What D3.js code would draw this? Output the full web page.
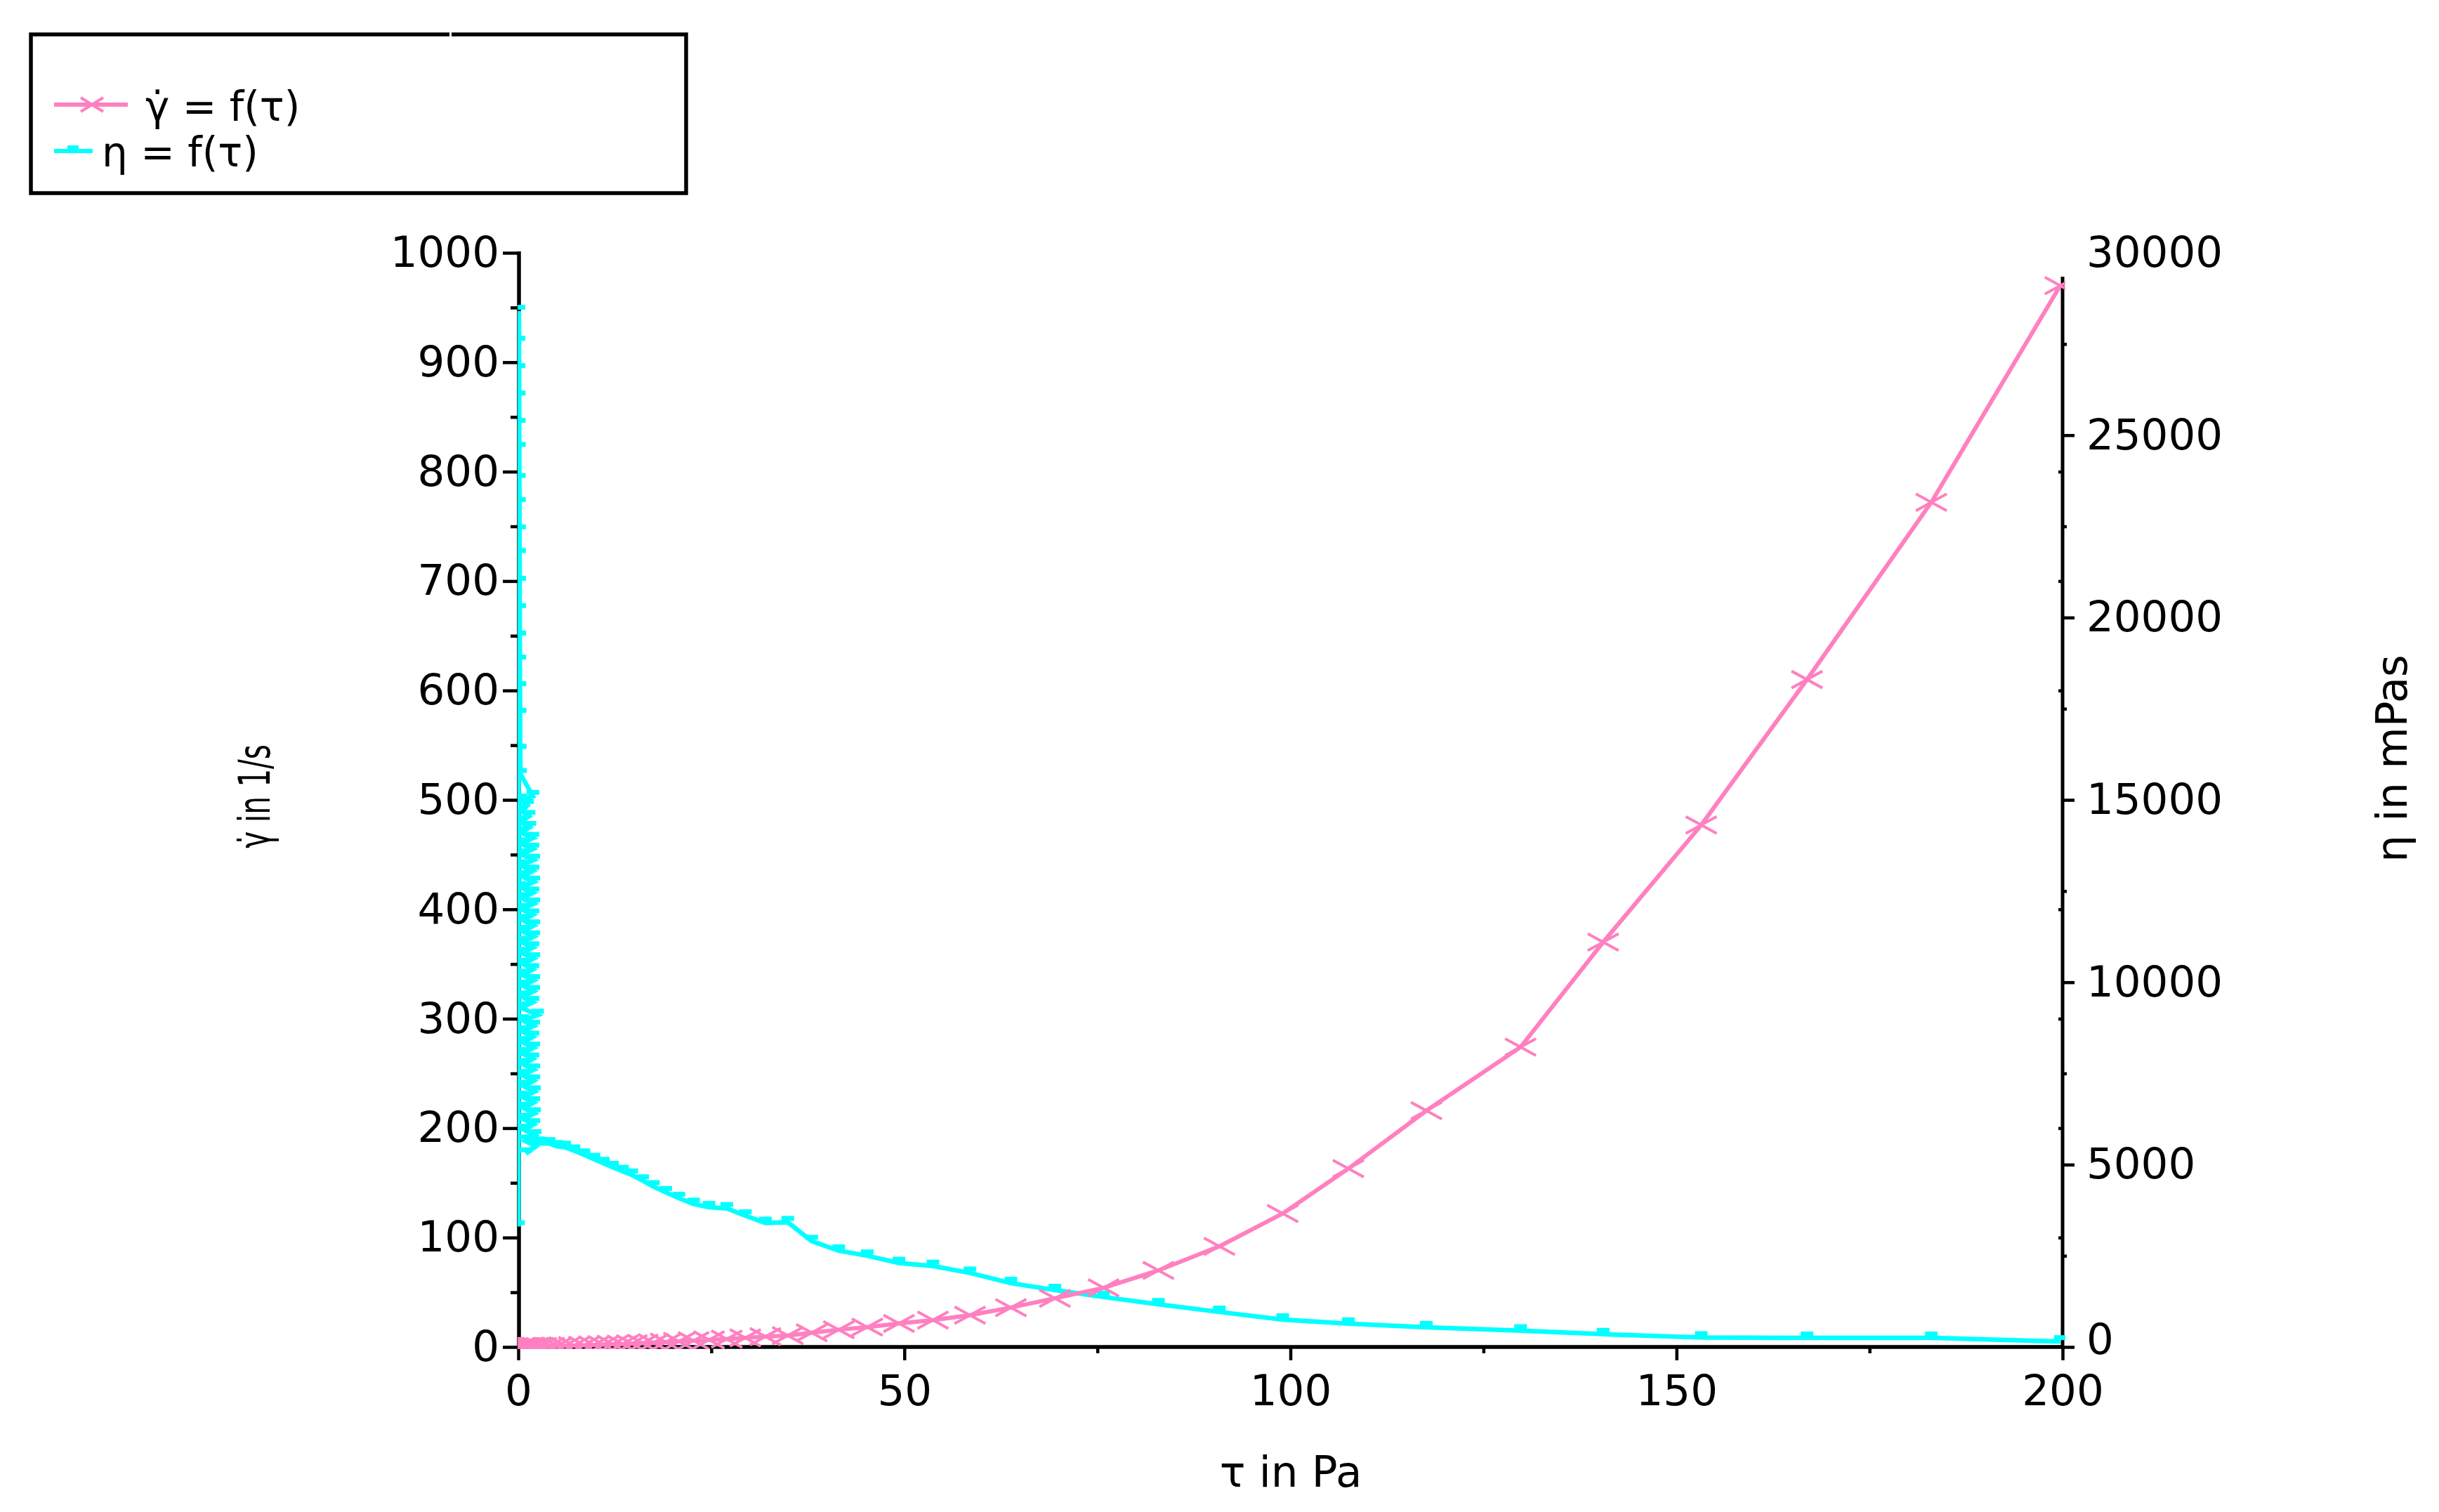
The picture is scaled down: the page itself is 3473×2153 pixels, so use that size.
<!DOCTYPE html>
<html>
<head>
<meta charset="utf-8">
<script src="https://cdn.jsdelivr.net/npm/d3@7"></script>
<style>
  html, body { margin: 0; padding: 0; background: #fff; }
</style>
</head>
<body>
<div id="chart"></div>
<script>
// shear stress values (Pa), measured points in order
const tau = [
  0.02, 0.08, 0.1, 0.1, 0.12, 0.12, 0.14, 0.14, 0.15, 0.16, 0.17, 0.18, 0.19, 0.2, 0.2, 0.22, 0.24, 0.25, 0.3,
  1.9, 0.3, 1.2, 0.4, 1.4, 0.3, 1.5, 0.4, 1.9, 0.3, 1.9, 0.4, 2.0, 0.3, 1.9, 0.5, 2.0, 0.3, 1.9, 0.5,
  2.0, 0.4, 1.9, 0.6, 2.0, 0.5, 2.0, 0.4, 1.9, 0.5, 2.0, 0.6, 1.9, 0.5, 2.0, 0.6, 2.0, 0.5, 1.9, 0.4,
  2.5, 0.6, 2.0, 0.5, 1.9, 0.6, 2.0, 0.5, 1.9, 0.6, 2.0, 0.5, 2.0, 0.7, 2.1, 0.6, 2.0, 0.7, 2.1, 0.6,
  2.0, 0.8, 2.2, 0.9, 2.3, 1.0, 2.6,
  3, 4, 5, 6, 7.2, 8.5, 9.8, 11, 12.2, 13.5, 14.7, 16.1, 17.5, 19.1, 20.8, 22.7, 24.7, 27, 29.4, 32, 34.9,
  38, 41.5, 45.2, 49.3, 53.7, 58.5, 63.8, 69.5, 75.8, 82.9, 90.8, 99, 107.5, 117.6, 129.8, 140.5,
  153.2, 166.9, 183, 199.7
];
// shear rate (1/s)
const shearRate = [
  0.01, 0.01, 0.01, 0.01, 0.01, 0.01, 0.01, 0.01, 0.01, 0.01, 0.01, 0.01, 0.01, 0.01, 0.01, 0.01, 0.02, 0.02, 0.02,
  0.13, 0.02, 0.08, 0.03, 0.1, 0.02, 0.11, 0.03, 0.14, 0.02, 0.14, 0.03, 0.15, 0.02, 0.15, 0.04, 0.16, 0.02, 0.15, 0.04,
  0.16, 0.03, 0.16, 0.05, 0.17, 0.04, 0.18, 0.04, 0.17, 0.05, 0.19, 0.06, 0.18, 0.05, 0.2, 0.06, 0.21, 0.05, 0.2, 0.04,
  0.27, 0.07, 0.23, 0.06, 0.22, 0.07, 0.24, 0.06, 0.24, 0.08, 0.26, 0.07, 0.27, 0.1, 0.3, 0.09, 0.3, 0.11, 0.33, 0.1,
  0.33, 0.13, 0.38, 0.16, 0.42, 0.19, 0.46,
  0.5, 0.7, 0.9, 1.1, 1.3, 1.6, 1.9, 2.2, 2.5, 2.8, 3.1, 3.5, 4.0, 4.5, 5.1, 5.8, 6.5, 7.2, 8.3, 9.5, 10.5,
  13, 15.8, 18.2, 21.5, 24.5, 29, 36, 44.5, 54, 70, 92, 122, 163, 216, 274, 370,
  477, 610, 772, 970
];
// viscosity (mPas)
const viscosity = [
  3300, 28400, 27550, 26800, 26050, 25300, 24640, 23790, 23130, 22380, 21730, 20970, 20220, 19470, 18810, 18080, 17350, 16360, 15700,
  15100, 15000, 14850, 14700, 14550, 14400, 14250, 14100, 13950, 13800, 13650, 13500, 13350, 13200, 13050, 12900, 12750, 12600, 12450, 12300,
  12150, 12000, 11850, 11700, 11550, 11400, 11250, 11100, 10950, 10800, 10650, 10500, 10350, 10200, 10050, 9900, 9750, 9600, 9450, 9300,
  9100, 8950, 8800, 8650, 8500, 8350, 8200, 8050, 7900, 7750, 7600, 7450, 7300, 7150, 7000, 6850, 6700, 6550, 6400, 6250,
  6100, 5950, 5800, 5650, 5500, 5300, 5600,
  5580, 5580, 5500, 5480, 5380, 5270, 5150, 5040, 4930, 4820, 4720, 4560, 4400, 4240, 4080, 3920, 3830, 3800, 3600, 3400, 3420,
  2900, 2640, 2500, 2300, 2220, 2030, 1750, 1560, 1370, 1170, 960, 750, 640, 540, 450, 350,
  260, 250, 250, 150
];

const xTicks = [0, 50, 100, 150, 200];
const xMinor = [25, 75, 125, 175];
const leftTicks = [0, 100, 200, 300, 400, 500, 600, 700, 800, 900, 1000];
const leftMinor = [50, 150, 250, 350, 450, 550, 650, 750, 850, 950];
const rightTicks = [0, 5000, 10000, 15000, 20000, 25000, 30000];
const rightMinor = [2500, 7500, 12500, 17500, 22500, 27500];
const mirrorTicks = [100, 200, 300, 400, 600, 700, 800];

const W = 3473, H = 2153;
const FONT = 'DejaVu Sans, Verdana, sans-serif';
const PINK = '#ff80c0', CYAN = '#00ffff';

const x = d3.scaleLinear().domain([0, 200]).range([738, 2937]);
const yL = d3.scaleLinear().domain([0, 1000]).range([1918, 360]);
const yR = d3.scaleLinear().domain([0, 30000]).range([1918, 360]);

const svg = d3.select('#chart').append('svg')
    .attr('width', W)
    .attr('height', H)
    .attr('xmlns', 'http://www.w3.org/2000/svg');

svg.append('rect').attr('width', W).attr('height', H).attr('fill', '#fff');

function styleAxis(g, fs) {
    g.select('.domain').remove();
    g.selectAll('line').attr('stroke', '#000').attr('stroke-width', 4.5);
    g.selectAll('text').attr('font-family', FONT).attr('font-size', fs).attr('fill', '#000');
}

const fmt = d3.format('d');

// left axis
const gl = svg.append('g').attr('transform', 'translate(739,0)');
gl.append('g').call(d3.axisLeft(yL).tickValues(leftTicks).tickSize(23).tickPadding(5).tickFormat(fmt)).call(styleAxis, 61);
gl.append('g').call(d3.axisLeft(yL).tickValues(leftMinor).tickSize(12).tickFormat('')).call(styleAxis, 61);
gl.append('line').attr('x1', 0).attr('x2', 0).attr('y1', yL(1000) - 2).attr('y2', yL(0) + 2.5)
    .attr('stroke', '#000').attr('stroke-width', 5.5);

// right axis
const gr = svg.append('g').attr('transform', 'translate(2937,0)');
const grMajor = gr.append('g').call(d3.axisRight(yR).tickValues(rightTicks).tickSize(17).tickPadding(17).tickFormat(fmt)).call(styleAxis, 61);
grMajor.selectAll('.tick').filter(d => d === 30000).select('line').remove();
grMajor.selectAll('.tick').filter(d => d === 0).select('text').attr('y', -10);
gr.append('g').call(d3.axisRight(yR).tickValues(rightMinor).tickSize(6).tickFormat('')).call(styleAxis, 61);
gr.append('g').call(d3.axisLeft(yL).tickValues(mirrorTicks).tickSize(6).tickFormat('')).call(styleAxis, 61);
gr.append('line').attr('x1', 0).attr('x2', 0).attr('y1', 394).attr('y2', yR(0) + 2.5)
    .attr('stroke', '#000').attr('stroke-width', 5);

// bottom axis
const gb = svg.append('g').attr('transform', 'translate(0,1918)');
gb.append('g').call(d3.axisBottom(x).tickValues(xTicks).tickSize(19).tickPadding(21).tickFormat(fmt)).call(styleAxis, 61);
gb.append('g').call(d3.axisBottom(x).tickValues(xMinor).tickSize(9).tickFormat('')).call(styleAxis, 61);
gb.append('line').attr('x1', 737).attr('x2', 2939).attr('y1', 0).attr('y2', 0)
    .attr('stroke', '#000').attr('stroke-width', 5.5);

// axis titles
svg.append('text').attr('x', 1838).attr('y', 2117).attr('text-anchor', 'middle')
    .attr('font-family', FONT).attr('font-size', 61).text('τ in Pa');
svg.append('text').attr('transform', 'translate(3405,1080) rotate(-90)')
    .attr('text-anchor', 'middle').attr('dominant-baseline', 'central')
    .attr('font-family', FONT).attr('font-size', 61).text('η in mPas');
svg.append('text').attr('transform', 'translate(362,1134) rotate(-90)')
    .attr('text-anchor', 'middle').attr('dominant-baseline', 'central')
    .attr('font-family', FONT).attr('font-size', 62)
    .attr('textLength', 148).attr('lengthAdjust', 'spacingAndGlyphs')
    .text('γ̇ in 1/s');

// data
svg.append('clipPath').attr('id', 'plot-clip')
    .append('rect').attr('x', 737).attr('y', 340).attr('width', 2204).attr('height', 1581);
const plot = svg.append('g').attr('clip-path', 'url(#plot-clip)');

const idx = d3.range(tau.length);

// viscosity curve
plot.append('path')
    .attr('d', d3.line().x(i => x(tau[i])).y(i => yR(viscosity[i]))(idx))
    .attr('fill', 'none').attr('stroke', CYAN).attr('stroke-width', 6.5)
    .attr('stroke-linejoin', 'miter');
plot.selectAll('.vmark').data(idx).enter().append('rect')
    .attr('class', 'vmark')
    .attr('x', i => x(tau[i]) - 9).attr('y', i => yR(viscosity[i]) - 9)
    .attr('width', 18).attr('height', 7).attr('fill', CYAN);

// shear rate curve
plot.append('path')
    .attr('d', d3.line().x(i => x(tau[i])).y(i => yL(shearRate[i]))(idx))
    .attr('fill', 'none').attr('stroke', PINK).attr('stroke-width', 6);
plot.selectAll('.smark').data(idx).enter().append('path')
    .attr('class', 'smark')
    .attr('d', i => {
        const px = x(tau[i]), py = yL(shearRate[i]);
        return `M${px - 22},${py - 12}L${px + 22},${py + 12}M${px - 22},${py + 12}L${px + 22},${py - 12}`;
    })
    .attr('fill', 'none').attr('stroke', PINK).attr('stroke-width', 4);

// legend
const lg = svg.append('g');
lg.append('rect').attr('x', 44).attr('y', 49).attr('width', 933).attr('height', 226)
    .attr('fill', '#fff').attr('stroke', '#000').attr('stroke-width', 5.5);
lg.append('rect').attr('x', 640).attr('y', 45).attr('width', 3).attr('height', 9).attr('fill', '#fff');

lg.append('line').attr('x1', 77).attr('x2', 182).attr('y1', 149).attr('y2', 149)
    .attr('stroke', PINK).attr('stroke-width', 6);
lg.append('path').attr('d', 'M115,139L147,159M115,159L147,139')
    .attr('fill', 'none').attr('stroke', PINK).attr('stroke-width', 4);
lg.append('text').attr('x', 207).attr('y', 172)
    .attr('font-family', FONT).attr('font-size', 58).text('γ̇ = f(τ)');

lg.append('line').attr('x1', 77).attr('x2', 132).attr('y1', 215).attr('y2', 215)
    .attr('stroke', CYAN).attr('stroke-width', 6);
lg.append('rect').attr('x', 96).attr('y', 207).attr('width', 16).attr('height', 7).attr('fill', CYAN);
lg.append('text').attr('x', 145).attr('y', 237)
    .attr('font-family', FONT).attr('font-size', 58).text('η = f(τ)');
</script>
</body>
</html>
